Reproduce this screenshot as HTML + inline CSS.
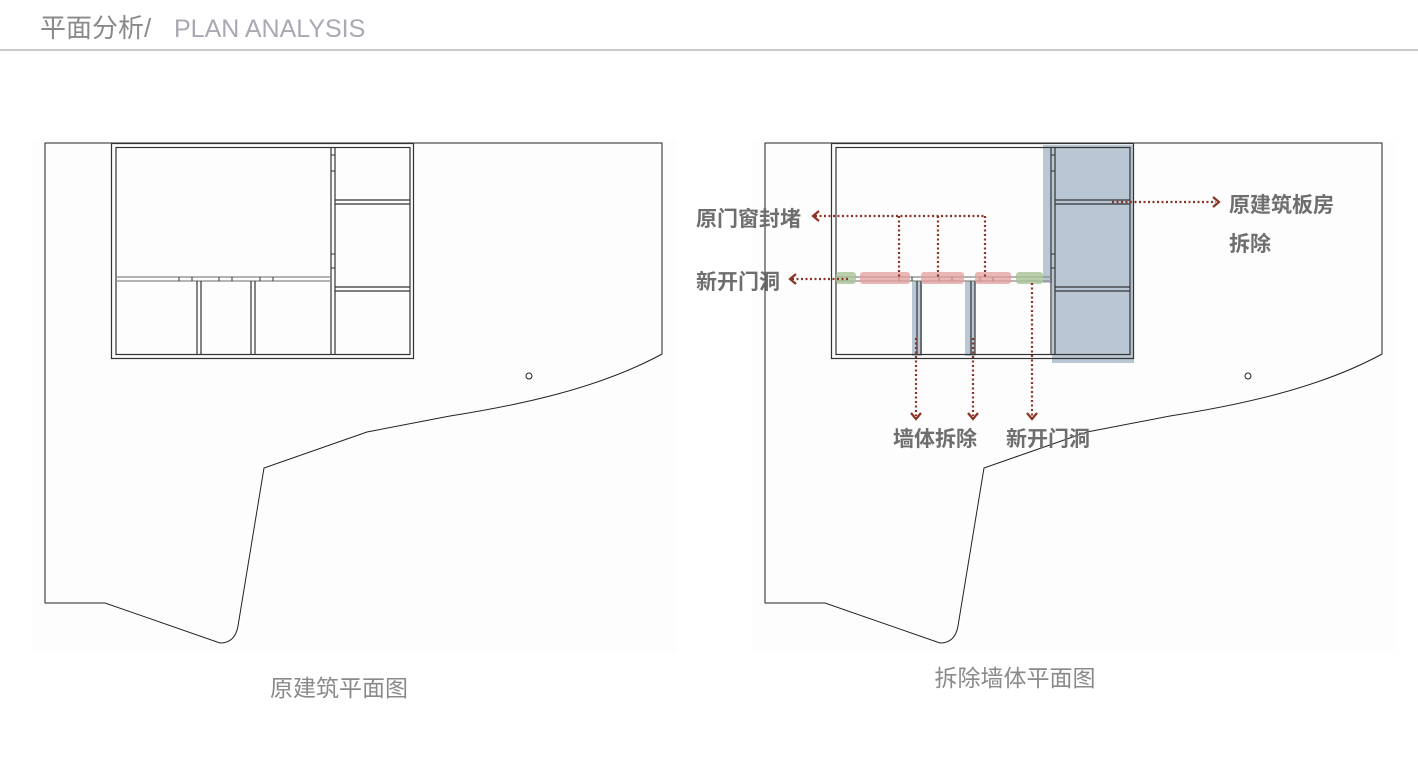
<!DOCTYPE html>
<html><head><meta charset="utf-8"><style>
html,body{margin:0;padding:0;background:#fff;width:1418px;height:764px;overflow:hidden}
svg{display:block}
</style></head><body>
<svg width="1418" height="764" viewBox="0 0 1418 764" xmlns="http://www.w3.org/2000/svg" font-family="'Liberation Sans','Noto Sans CJK SC',sans-serif">
<text x="40" y="37" font-size="26" fill="#8a8a8a">平面分析/</text>
<text x="174" y="37" font-size="25" fill="#a9a9b4" font-weight="300">PLAN ANALYSIS</text>
<line x1="0" y1="50" x2="1418" y2="50" stroke="#aaa" stroke-width="1.2"/>
<rect x="33" y="140" width="643" height="512" fill="#fdfdfd"/>
<rect x="752" y="140" width="643" height="512" fill="#fdfdfd"/>

<defs>
<g id="site">
<path d="M45,143 H662 V354 C600,388 520,405 450,416 L367,432 L264,468 L238,626 Q235,643 220,643 L105,603 H45 Z" fill="none" stroke="#222" stroke-width="1"/>
</g>
<g id="bld" fill="none" stroke="#333" stroke-width="1.2">
<rect x="111.5" y="143.5" width="302" height="215"/>
<rect x="116" y="147.5" width="294" height="207"/>
<line x1="331" y1="148" x2="331" y2="355"/><line x1="335" y1="148" x2="335" y2="355"/>
<line x1="116" y1="277" x2="331" y2="277" stroke="#888"/><line x1="116" y1="281" x2="331" y2="281" stroke="#888"/>
<line x1="335" y1="200" x2="410" y2="200"/><line x1="335" y1="204" x2="410" y2="204"/>
<line x1="335" y1="287" x2="410" y2="287"/><line x1="335" y1="291" x2="410" y2="291"/>
<line x1="197" y1="281" x2="197" y2="355"/><line x1="201" y1="281" x2="201" y2="355"/>
<line x1="251" y1="281" x2="251" y2="355"/><line x1="255" y1="281" x2="255" y2="355"/>
<path d="M179,277v4M192,277v4M219,277v4M232,277v4M260,277v4M273,277v4M331,155h4M331,171h4M331,254h4M331,268h4" stroke-width="1"/>
</g>
</defs>

<use href="#site"/>
<use href="#bld"/>
<circle cx="529" cy="376" r="3" fill="none" stroke="#222"/>

<rect x="1043" y="145" width="91" height="138" fill="#b9c7d4"/>
<rect x="1052" y="145" width="82" height="218" fill="#b9c7d4"/>
<rect x="912" y="281" width="10" height="75" fill="#b9c7d4"/>
<rect x="965" y="281" width="10" height="75" fill="#b9c7d4"/>
<g transform="translate(720,0)"><use href="#site"/><use href="#bld"/></g>
<circle cx="1248" cy="376" r="3" fill="none" stroke="#222"/>
<rect x="836" y="272" width="20" height="12" rx="3" fill="#a9c296" opacity="0.8"/>
<rect x="1016" y="272" width="27" height="12" rx="3" fill="#a9c296" opacity="0.8"/>
<rect x="860" y="272" width="50" height="12" rx="3" fill="#e49e9e" opacity="0.75"/>
<rect x="921" y="272" width="43" height="12" rx="3" fill="#e49e9e" opacity="0.75"/>
<rect x="975" y="272" width="36" height="12" rx="3" fill="#e49e9e" opacity="0.75"/>

<g stroke="#8b3322" stroke-width="2.2" stroke-dasharray="2,2.5" fill="none">
<path d="M815,216 H985 M899,216 V278 M938,216 V278 M985,216 V278"/>
<path d="M792,279 H850"/>
<path d="M1112,202 H1216"/>
<path d="M916,338 V416 M973,338 V416 M1032,283 V416"/>
</g>
<g stroke="#8b3322" stroke-width="2.2" fill="none">
<path d="M819,211 L813,216 L819,221"/>
<path d="M796,274 L790,279 L796,284"/>
<path d="M1213,197 L1219,202 L1213,207"/>
<path d="M911,413 L916,419 L921,413 M968,413 L973,419 L978,413 M1027,413 L1032,419 L1037,413"/>
</g>
<g font-size="21" fill="#6e6e6e" font-weight="bold">
<text x="696" y="226">原门窗封堵</text>
<text x="696" y="289">新开门洞</text>
<text x="1229" y="212">原建筑板房</text>
<text x="1229" y="251">拆除</text>
<text x="893" y="446">墙体拆除</text>
<text x="1006" y="446">新开门洞</text>
</g>
<text x="339" y="696" font-size="23" fill="#8a8a8a" text-anchor="middle">原建筑平面图</text>
<text x="1015" y="686" font-size="23" fill="#8a8a8a" text-anchor="middle">拆除墙体平面图</text>
</svg>
</body></html>
